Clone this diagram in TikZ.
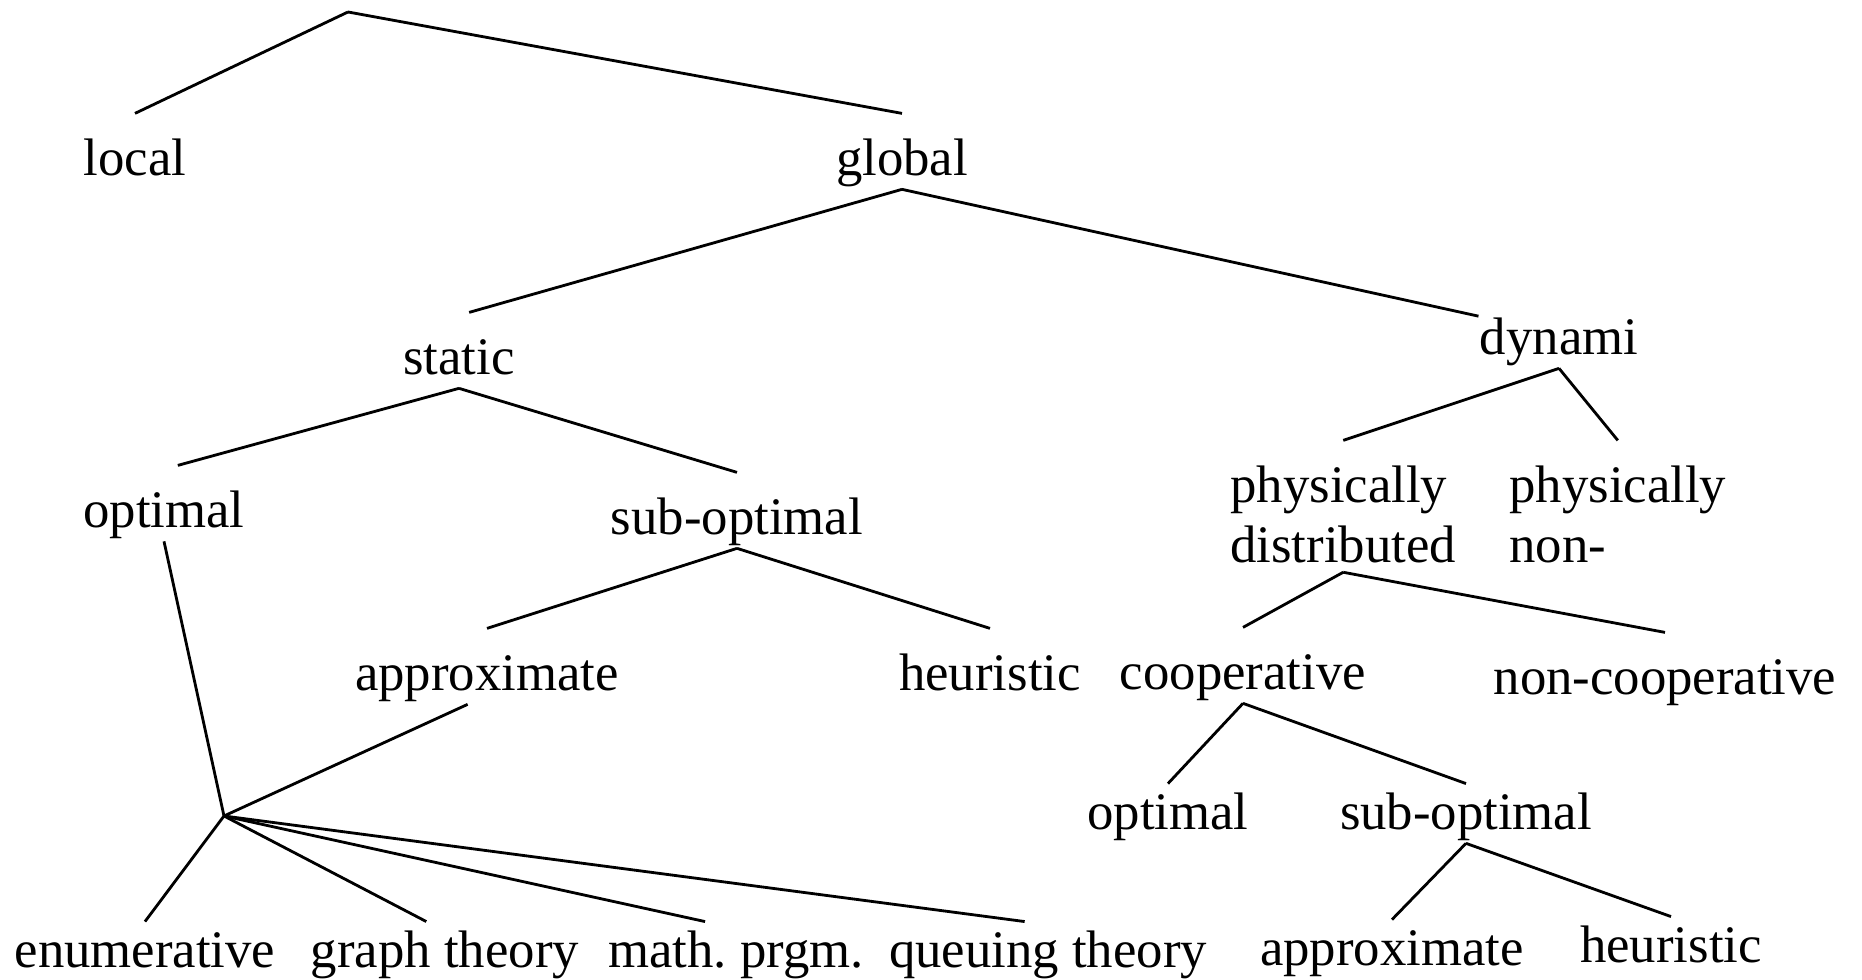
\documentclass[tikz,border=0pt]{standalone}
\usepackage{fontspec}
\setmainfont{Liberation Serif}
\usetikzlibrary{positioning}

\begin{document}
\begin{tikzpicture}[x=0.01cm, y=-0.01cm, line width=0.8pt,
  every node/.style={font=\fontsize{15pt}{16.8pt}\selectfont, anchor=base, inner sep=0pt, text height=17.4pt, text depth=3.4pt},
  leaf/.style={text height=12.8pt}]

        \useasboundingbox (0,0) rectangle (1862,980);

        % Root point and the point where the optimal branches meet
        \coordinate (root) at (348,12);
        \coordinate (hub) at (224,816);

        % First level
        \node (local) at (135,176) {local};
        \node (global) at (902,176) {global};

        % Second level
        \node (static) at (459,375) {static};
        \node (dynami) at (1559,355) {dynami};

        % Third level
        \node (optL) at (164,528) {optimal};
        \node (subopt) at (737,535) {sub-optimal};
        \node[anchor=base west, text depth=19.3pt] (pdist) at (1229,503) {\begin{tabular}[t]{@{}l@{}}physically\\distributed\end{tabular}};
        \node[anchor=base west, text depth=19.3pt] (pnon) at (1508,503) {\begin{tabular}[t]{@{}l@{}}physically\\non-\end{tabular}};

        % Fourth level
        \node (approx) at (487,691) {approximate};
        \node (heurM) at (990,691) {heuristic};
        \node (coop) at (1243,690) {cooperative};
        \node (noncoop) at (1665,695) {non-cooperative};

        % Fifth level
        \node[leaf] (optR) at (1168,830) {optimal};
        \node[leaf] (suboptR) at (1466,830) {sub-optimal};

        % Bottom row
        \node[leaf] (enum) at (145,968) {enumerative};
        \node[leaf] (graph) at (445,968) {graph theory};
        \node[leaf] (mathp) at (736,968) {math.\ prgm.};
        \node[leaf] (queue) at (1048,968) {queuing theory};
        \node[leaf] (approxR) at (1392,966) {approximate};
        \node[leaf] (heurR) at (1671,963) {heuristic};

        % Tree edges
        \draw (root) -- (local.north);
        \draw (root) -- (global.north);
        \draw (global.south) -- (static.75);
        \draw (global.south) -- (dynami.170);
        \draw (static.south) -- (optL.70);
        \draw (static.south) -- (subopt.north);
        \draw (subopt.south) -- (approx.north);
        \draw (subopt.south) -- (heurM.north);

        % Optimal and approximate meet in one point
        \draw (optL.south) -- (hub);
        \draw (approx.243) -- (hub);
        \foreach \leafnode/\ang in {enum/90, graph/122, mathp/136, queue/128} {
          \draw (hub) -- (\leafnode.\ang);
        }

        % Dynamic side
        \draw (dynami.south) -- (pdist.north);
        \draw (dynami.south) -- (pnon.north);
        \draw (pdist.south) -- (coop.north);
        \draw (pdist.south) -- (noncoop.north);
        \draw (coop.south) -- (optR.north);
        \draw (coop.south) -- (suboptR.north);
        \draw (suboptR.south) -- (approxR.north);
        \draw (suboptR.south) -- (heurR.north);

      \end{tikzpicture}
\end{document}
